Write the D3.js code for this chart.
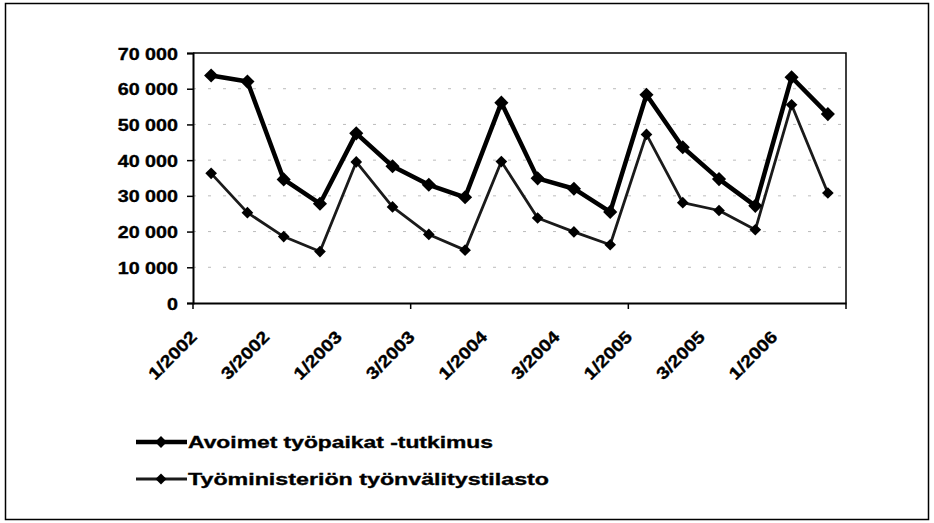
<!DOCTYPE html>
<html>
<head>
<meta charset="utf-8">
<script src="https://cdn.jsdelivr.net/npm/d3@7"></script>
<style>
  html, body { margin: 0; padding: 0; background: #fff; }
  svg { display: block; }
  text { font-family: "Liberation Sans", Arial, sans-serif; font-weight: bold; fill: #000; stroke: #000; stroke-width: 0.35px; }
</style>
</head>
<body>
<svg id="chart" width="934" height="523"></svg>
<script>
// ---- data ----
const categories = ["1/2002","2/2002","3/2002","4/2002","1/2003","2/2003","3/2003","4/2003",
                    "1/2004","2/2004","3/2004","4/2004","1/2005","2/2005","3/2005","4/2005",
                    "1/2006","2/2006"];
const seriesNames = ["Avoimet työpaikat -tutkimus", "Työministeriön työnvälitystilasto"];
const avoimet = [63700, 62000, 34600, 27800, 47500, 38300, 33100, 29600, 56100,
                 34900, 32000, 25500, 58300, 43600, 34700, 27200, 63200, 52900];
const tyoministerio = [36300, 25300, 18600, 14400, 39500, 26900, 19200, 14800, 39600,
                       23800, 19900, 16300, 47200, 28100, 25900, 20500, 55500, 30800];
const yTicks = [0, 10000, 20000, 30000, 40000, 50000, 60000, 70000];
const xLabelCats = ["1/2002","3/2002","1/2003","3/2003","1/2004","3/2004","1/2005","3/2005","1/2006"];
const xTickCats = ["1/2002","3/2003","1/2005"];

// ---- layout ----
const svg = d3.select("#chart");
const L = 193, R = 846, T = 53, B = 303;
const stretch = 1.16;

const x = d3.scaleBand().domain(categories).range([L, R]).padding(0);
const y = d3.scaleLinear().domain([0, 70000]).range([B, T]);
const cx = c => x(c) + x.bandwidth() / 2;
const fmt = v => d3.format(",")(v).replace(/,/g, " ");

// outer frame
svg.append("rect").attr("x", 5.5).attr("y", 3.5).attr("width", 923).attr("height", 516)
  .attr("fill", "none").attr("stroke", "#000").attr("stroke-width", 1.5);

// faint gridlines (scanned remnants)
svg.append("g").selectAll("line").data(yTicks.filter(d => d > 0 && d < 70000)).join("line")
  .attr("x1", L).attr("x2", R).attr("y1", d => y(d)).attr("y2", d => y(d))
  .attr("stroke", "#bbb").attr("stroke-width", 1).attr("stroke-dasharray", "3,12");

// plot border top/right
svg.append("path").attr("d", `M${L},${T}H${R}V${B}`).attr("fill", "none")
  .attr("stroke", "#000").attr("stroke-width", 1.5);

// y axis
const yAxis = svg.append("g").attr("transform", `translate(${L},0)`)
  .call(d3.axisLeft(y).tickValues(yTicks).tickSize(6).tickPadding(9).tickFormat(fmt));
yAxis.select(".domain").attr("stroke", "#000").attr("stroke-width", 2);
yAxis.selectAll(".tick line").attr("stroke", "#000").attr("stroke-width", 1.5);
yAxis.selectAll(".tick text").attr("font-size", 17).attr("font-family", "Liberation Sans, Arial, sans-serif")
  .attr("font-weight", "bold").attr("fill", "#000").attr("dy", "0.36em");

// x axis
const xAxis = svg.append("g").attr("transform", `translate(0,${B})`)
  .call(d3.axisBottom(x).tickValues([]).tickSizeOuter(0));
xAxis.select(".domain").attr("stroke", "#000").attr("stroke-width", 2);
svg.append("g").selectAll("line").data(xTickCats).join("line")
  .attr("x1", d => x(d)).attr("x2", d => x(d)).attr("y1", B).attr("y2", B + 6)
  .attr("stroke", "#000").attr("stroke-width", 1.5);
svg.append("line").attr("x1", R).attr("x2", R).attr("y1", B).attr("y2", B + 6)
  .attr("stroke", "#000").attr("stroke-width", 1.5);

svg.append("g").selectAll("text").data(xLabelCats).join("text")
  .attr("transform", d => `translate(${x(d) + 5},${B + 35}) rotate(-45)`)
  .attr("text-anchor", "end").attr("font-size", 17).text(d => d);

// lines
const line = d3.line().x((d, i) => cx(categories[i])).y(d => y(d));
const diamond = (s) => d3.symbol().type(d3.symbolSquare).size(s)();

svg.append("path").datum(tyoministerio).attr("d", line).attr("fill", "none")
  .attr("stroke", "#1a1a1a").attr("stroke-width", 2.8).attr("stroke-linejoin", "round");
svg.append("g").selectAll("path").data(tyoministerio).join("path")
  .attr("d", diamond(68))
  .attr("transform", (d, i) => `translate(${cx(categories[i])},${y(d)}) rotate(45)`)
  .attr("fill", "#000");

svg.append("path").datum(avoimet).attr("d", line).attr("fill", "none")
  .attr("stroke", "#000").attr("stroke-width", 4.5).attr("stroke-linejoin", "round");
svg.append("g").selectAll("path").data(avoimet).join("path")
  .attr("d", diamond(100))
  .attr("transform", (d, i) => `translate(${cx(categories[i])},${y(d)}) rotate(45)`)
  .attr("fill", "#000");

// legend
const legendRows = [
  { name: seriesNames[0], ly: 442, ty: 448, w: 4.5, c: "#000", s: 70, len: 305 },
  { name: seriesNames[1], ly: 479, ty: 485, w: 2.8, c: "#1a1a1a", s: 60, len: 361 }
];
const lg = svg.append("g");
legendRows.forEach(r => {
  lg.append("line").attr("x1", 136).attr("x2", 187).attr("y1", r.ly).attr("y2", r.ly)
    .attr("stroke", r.c).attr("stroke-width", r.w);
  lg.append("path").attr("d", diamond(r.s))
    .attr("transform", `translate(161,${r.ly}) rotate(45)`).attr("fill", "#000");
  lg.append("text").attr("x", 188).attr("y", r.ty).attr("font-size", 17)
    .attr("textLength", r.len).attr("lengthAdjust", "spacingAndGlyphs").text(r.name);
});

// horizontal stretch of labels to match reference
svg.selectAll(".tick text, g > text:not([textLength])").each(function () {
  const w = this.getComputedTextLength();
  d3.select(this).attr("textLength", w * stretch).attr("lengthAdjust", "spacingAndGlyphs");
});
</script>
</body>
</html>
